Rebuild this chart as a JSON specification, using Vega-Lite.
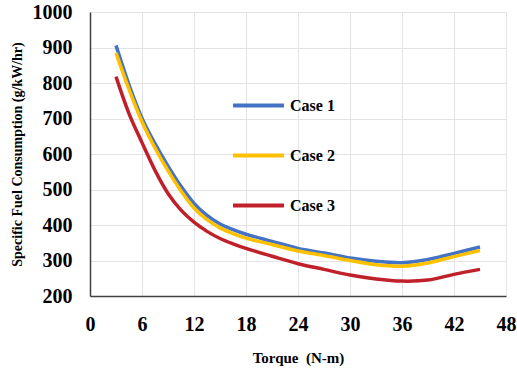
{
  "$schema": "https://vega.github.io/schema/vega-lite/v6.json",
  "width": 416,
  "height": 284,
  "autosize": {"type": "none"},
  "padding": {"left": 90, "top": 12, "right": 11, "bottom": 72},
  "background": "white",
  "config": {
    "view": {"stroke": null},
    "font": "Liberation Serif"
  },
  "data": {
    "values": [
      {"t": 3, "sfc": 906, "case": "Case 1"},
      {"t": 4.5, "sfc": 795, "case": "Case 1"},
      {"t": 6, "sfc": 701, "case": "Case 1"},
      {"t": 7.5, "sfc": 629, "case": "Case 1"},
      {"t": 9, "sfc": 566, "case": "Case 1"},
      {"t": 10.5, "sfc": 509, "case": "Case 1"},
      {"t": 12, "sfc": 461, "case": "Case 1"},
      {"t": 13.5, "sfc": 427, "case": "Case 1"},
      {"t": 15, "sfc": 403, "case": "Case 1"},
      {"t": 16.5, "sfc": 387, "case": "Case 1"},
      {"t": 18, "sfc": 374, "case": "Case 1"},
      {"t": 21, "sfc": 354, "case": "Case 1"},
      {"t": 24, "sfc": 334, "case": "Case 1"},
      {"t": 27, "sfc": 321, "case": "Case 1"},
      {"t": 30, "sfc": 307, "case": "Case 1"},
      {"t": 33, "sfc": 298, "case": "Case 1"},
      {"t": 36, "sfc": 294, "case": "Case 1"},
      {"t": 39, "sfc": 303, "case": "Case 1"},
      {"t": 42, "sfc": 320, "case": "Case 1"},
      {"t": 45, "sfc": 338, "case": "Case 1"},
      {"t": 3, "sfc": 885, "case": "Case 2"},
      {"t": 4.5, "sfc": 782, "case": "Case 2"},
      {"t": 6, "sfc": 691, "case": "Case 2"},
      {"t": 7.5, "sfc": 617, "case": "Case 2"},
      {"t": 9, "sfc": 553, "case": "Case 2"},
      {"t": 10.5, "sfc": 496, "case": "Case 2"},
      {"t": 12, "sfc": 448, "case": "Case 2"},
      {"t": 13.5, "sfc": 415, "case": "Case 2"},
      {"t": 15, "sfc": 392, "case": "Case 2"},
      {"t": 16.5, "sfc": 376, "case": "Case 2"},
      {"t": 18, "sfc": 363, "case": "Case 2"},
      {"t": 21, "sfc": 345, "case": "Case 2"},
      {"t": 24, "sfc": 327, "case": "Case 2"},
      {"t": 27, "sfc": 314, "case": "Case 2"},
      {"t": 30, "sfc": 300, "case": "Case 2"},
      {"t": 33, "sfc": 288, "case": "Case 2"},
      {"t": 36, "sfc": 284, "case": "Case 2"},
      {"t": 39, "sfc": 293, "case": "Case 2"},
      {"t": 42, "sfc": 311, "case": "Case 2"},
      {"t": 45, "sfc": 328, "case": "Case 2"},
      {"t": 3, "sfc": 818, "case": "Case 3"},
      {"t": 4.5, "sfc": 714, "case": "Case 3"},
      {"t": 6, "sfc": 632, "case": "Case 3"},
      {"t": 7.5, "sfc": 554, "case": "Case 3"},
      {"t": 9, "sfc": 489, "case": "Case 3"},
      {"t": 10.5, "sfc": 442, "case": "Case 3"},
      {"t": 12, "sfc": 408, "case": "Case 3"},
      {"t": 13.5, "sfc": 382, "case": "Case 3"},
      {"t": 15, "sfc": 362, "case": "Case 3"},
      {"t": 16.5, "sfc": 347, "case": "Case 3"},
      {"t": 18, "sfc": 334, "case": "Case 3"},
      {"t": 21, "sfc": 312, "case": "Case 3"},
      {"t": 24, "sfc": 291, "case": "Case 3"},
      {"t": 27, "sfc": 275, "case": "Case 3"},
      {"t": 30, "sfc": 259, "case": "Case 3"},
      {"t": 33, "sfc": 248, "case": "Case 3"},
      {"t": 36, "sfc": 242, "case": "Case 3"},
      {"t": 39, "sfc": 245, "case": "Case 3"},
      {"t": 42, "sfc": 261, "case": "Case 3"},
      {"t": 45, "sfc": 275, "case": "Case 3"}
    ]
  },
  "mark": {"type": "line", "interpolate": "catmull-rom", "strokeWidth": 3.5, "strokeCap": "butt"},
  "encoding": {
    "x": {
      "field": "t", "type": "quantitative",
      "scale": {"domain": [0, 48], "nice": false},
      "axis": {
        "values": [0, 6, 12, 18, 24, 30, 36, 42, 48],
        "format": "d",
        "title": "Torque\u00a0 (N-m)",
        "titleFont": "Liberation Serif", "titleFontSize": 15, "titleFontWeight": "bold", "titleColor": "#000",
        "titlePadding": 16,
        "labelFont": "Liberation Serif", "labelFontSize": 20, "labelFontWeight": "bold", "labelColor": "#000",
        "labelPadding": 18, "ticks": false,
        "domainColor": "#404040", "domainWidth": 1.5,
        "gridColor": "#e3e3e3", "gridWidth": 1,
        "labelFlush": false
      }
    },
    "y": {
      "field": "sfc", "type": "quantitative",
      "scale": {"domain": [200, 1000], "nice": false, "zero": false},
      "axis": {
        "values": [200, 300, 400, 500, 600, 700, 800, 900, 1000],
        "format": "d",
        "title": "Specific Fuel Consumption (g/kW/hr)",
        "titleFont": "Liberation Serif", "titleFontSize": 14, "titleFontWeight": "bold", "titleColor": "#000",
        "titlePadding": 8,
        "labelFont": "Liberation Serif", "labelFontSize": 20, "labelFontWeight": "bold", "labelColor": "#000",
        "labelPadding": 18, "ticks": false,
        "domainColor": "#404040", "domainWidth": 1.5,
        "gridColor": "#e3e3e3", "gridWidth": 1,
        "labelFlush": false
      }
    },
    "color": {
      "field": "case", "type": "nominal",
      "scale": {"domain": ["Case 1", "Case 2", "Case 3"], "range": ["#4472C4", "#FFC000", "#C0202A"]},
      "legend": {
        "title": null,
        "orient": "none",
        "legendX": 141,
        "legendY": 66,
        "symbolType": "stroke",
        "symbolSize": 2600,
        "symbolStrokeWidth": 4,
        "labelFont": "Liberation Serif",
        "labelFontSize": 16,
        "labelFontWeight": "bold",
        "labelColor": "#000",
        "labelOffset": 4,
        "rowPadding": 14
      }
    }
  }
}
